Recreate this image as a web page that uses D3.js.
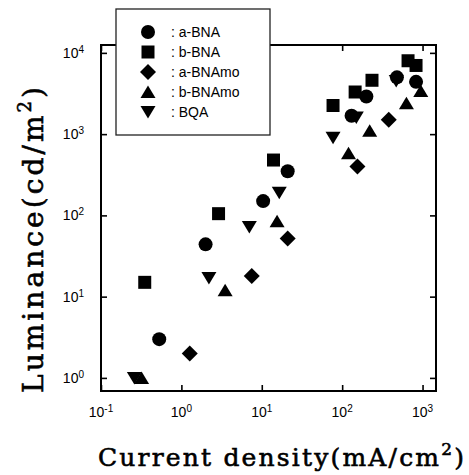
<!DOCTYPE html>
<html>
<head>
<meta charset="utf-8">
<script src="https://cdn.jsdelivr.net/npm/d3@7"></script>
<style>
  html, body { margin: 0; padding: 0; background: #fff; }
  svg { display: block; }
</style>
</head>
<body>
<svg id="chart" width="469" height="475"></svg>
<script>
// Luminance vs current density
const seriesNames = ['a-BNA', 'b-BNA', 'a-BNAmo', 'b-BNAmo', 'BQA'];
const seriesSymbols = ['circle', 'square', 'diamond', 'triangleUp', 'triangleDown'];

const aBNA = [[0.53, 3], [2, 44], [10.4, 150], [21, 350], [131, 1680], [200, 2900], [480, 5000], [830, 4400]];
const bBNA = [[0.35, 15], [2.9, 105], [14, 480], [77, 2250], [145, 3300], [235, 4600], [660, 8000], [830, 7000]];
const aBNAmo = [[1.27, 2], [7.5, 18], [21, 52], [155, 400], [380, 1500]];
const bBNAmo = [[0.32, 1.0], [3.5, 12], [15.5, 85], [120, 580], [220, 1100], [630, 2400], [950, 3400]];
const BQA = [[0.26, 1.0], [2.2, 17], [7, 72], [16.5, 190], [77, 900], [150, 1600], [470, 4500]];

const xTickExp = [-1, 0, 1, 2, 3];
const yTickExp = [0, 1, 2, 3, 4];

const svg = d3.select('#chart');

// Scales: frame spans a bit past the last decade on the right, top and bottom
const x = d3.scaleLog().domain([0.1, 1470]).range([101, 436]);
const y = d3.scaleLog().domain([0.69, 12500]).range([391, 45]);

const [x0, x1] = x.range();
const [y0, y1] = y.range();

// Ticks on all four sides, pointing inward
const tickVals = e => e.map(p => Math.pow(10, p));
svg.append('g').attr('transform', `translate(0,${y0})`)
  .call(d3.axisBottom(x).tickValues(tickVals(xTickExp)).tickSize(-6).tickFormat(''));
svg.append('g').attr('transform', `translate(0,${y1})`)
  .call(d3.axisTop(x).tickValues(tickVals(xTickExp)).tickSize(-6).tickFormat(''));
svg.append('g').attr('transform', `translate(${x0},0)`)
  .call(d3.axisLeft(y).tickValues(tickVals(yTickExp)).tickSize(-6).tickFormat(''));
svg.append('g').attr('transform', `translate(${x1},0)`)
  .call(d3.axisRight(y).tickValues(tickVals(yTickExp)).tickSize(-6).tickFormat(''));
svg.selectAll('.domain').remove();
svg.selectAll('.tick line').attr('stroke', '#000').attr('stroke-width', 1.6);

// Frame
svg.append('rect')
  .attr('x', x0).attr('y', y1)
  .attr('width', x1 - x0).attr('height', y0 - y1)
  .attr('fill', 'none')
  .attr('stroke', '#000')
  .attr('stroke-width', 2);

// Tick labels (10 with superscript exponent)
function powLabel(sel, exp) {
  sel.append('tspan').text('10');
  sel.append('tspan')
    .attr('dy', -5)
    .attr('font-size', 10)
    .text(exp < 0 ? '-' + Math.abs(exp) : exp);
}

xTickExp.forEach(e => {
  svg.append('text')
    .attr('x', x(Math.pow(10, e)))
    .attr('y', 417)
    .attr('text-anchor', 'middle')
    .attr('font-family', 'Liberation Sans, Arial, sans-serif')
    .attr('font-size', 14)
    .call(powLabel, e);
});

yTickExp.forEach(e => {
  svg.append('text')
    .attr('x', 84)
    .attr('y', y(Math.pow(10, e)) + 5)
    .attr('text-anchor', 'end')
    .attr('font-family', 'Liberation Sans, Arial, sans-serif')
    .attr('font-size', 14)
    .call(powLabel, e);
});

// Axis titles
const xTitle = svg.append('text')
  .attr('x', 98).attr('y', 466)
  .attr('font-family', 'DejaVu Serif, serif')
  .attr('font-size', 25)
  .attr('stroke', '#000')
  .attr('stroke-width', 0.6)
  .attr('textLength', 366)
  .attr('lengthAdjust', 'spacing');
xTitle.append('tspan').text('Current density(mA/cm');
xTitle.append('tspan').attr('dy', -11).attr('font-size', 17).text('2');
xTitle.append('tspan').attr('dy', 11).text(')');

const yTitle = svg.append('text')
  .attr('transform', 'translate(43,393) rotate(-90)')
  .attr('font-family', 'DejaVu Serif, serif')
  .attr('font-size', 28)
  .attr('stroke', '#000')
  .attr('stroke-width', 0.6)
  .attr('textLength', 306)
  .attr('lengthAdjust', 'spacing');
yTitle.append('tspan').text('Luminance(cd/m');
yTitle.append('tspan').attr('dy', -12).attr('font-size', 18).text('2');
yTitle.append('tspan').attr('dy', 12).text(')');

// Marker shapes, centred on their bounding box
const symbolPath = {
  circle: 'M7,0A7,7 0 1,1 -7,0A7,7 0 1,1 7,0Z',
  square: 'M-6.5,-6.5H6.5V6.5H-6.5Z',
  diamond: 'M0,-8L8,0L0,8L-8,0Z',
  triangleUp: 'M0,-6.5L7.5,6L-7.5,6Z',
  triangleDown: 'M0,6.5L7.5,-6L-7.5,-6Z'
};

const seriesData = [aBNA, bBNA, aBNAmo, bBNAmo, BQA];

seriesData.forEach((data, i) => {
  svg.append('g')
    .selectAll('path')
    .data(data)
    .join('path')
    .attr('transform', d => `translate(${x(d[0])},${y(d[1])})`)
    .attr('d', symbolPath[seriesSymbols[i]])
    .attr('fill', '#000');
});

// Legend box (white, covers the frame top)
const legend = svg.append('g');
legend.append('rect')
  .attr('x', 116).attr('y', 9)
  .attr('width', 154).attr('height', 126)
  .attr('fill', '#fff')
  .attr('stroke', '#222')
  .attr('stroke-width', 1.3);

seriesNames.forEach((name, i) => {
  const ly = 32 + i * 20;
  legend.append('path')
    .attr('transform', `translate(148,${ly})`)
    .attr('d', symbolPath[seriesSymbols[i]])
    .attr('fill', '#000');
  legend.append('text')
    .attr('x', 171).attr('y', ly + 5)
    .attr('font-family', 'Liberation Sans, Arial, sans-serif')
    .attr('font-size', 14)
    .text(': ' + name);
});
</script>
</body>
</html>
